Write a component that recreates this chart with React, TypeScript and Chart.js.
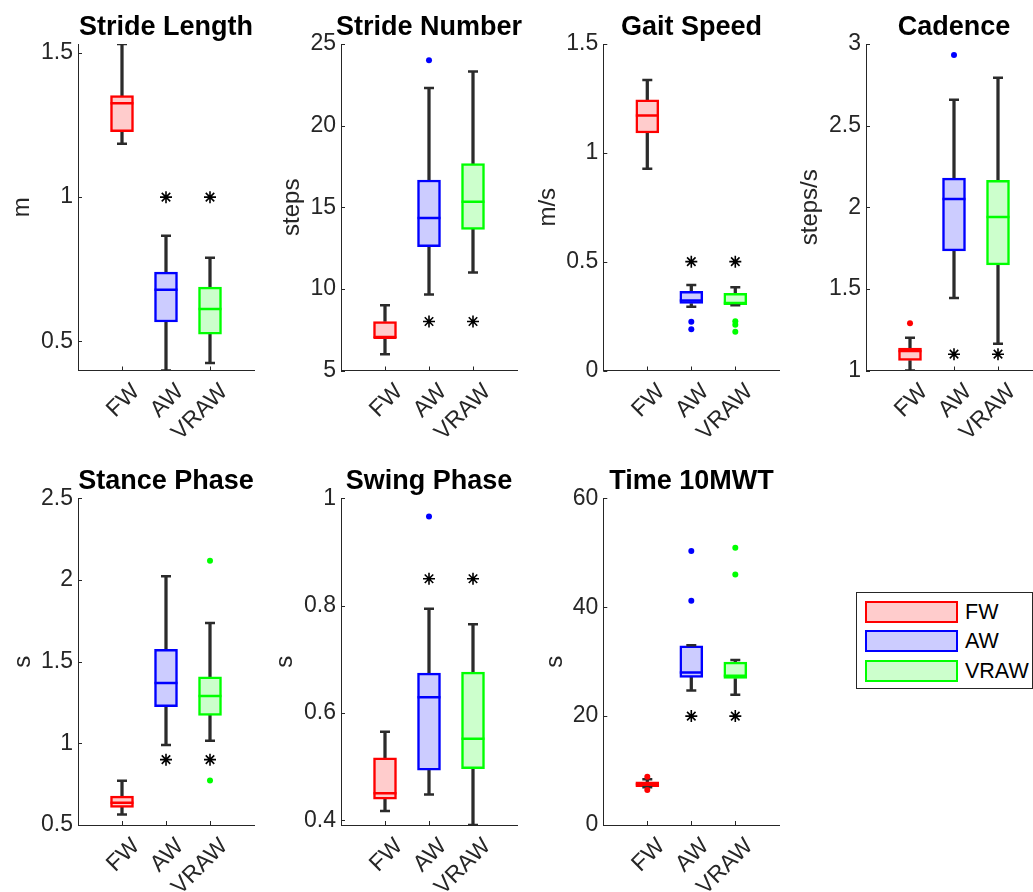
import React, { useEffect, useRef } from 'react';
import { Chart, registerables } from 'chart.js';

Chart.register(...registerables);

// ---------------- data ----------------
const groups = ['FW', 'AW', 'VRAW'];
const titles = ['Stride Length', 'Stride Number', 'Gait Speed', 'Cadence', 'Stance Phase', 'Swing Phase', 'Time 10MWT'];
const yUnits = ['m', 'steps', 'm/s', 'steps/s', 's', 's', 's'];
const yMin = [0.399, 5, 0, 1, 0.5, 0.391, 0];
const yMax = [1.531, 25, 1.5, 3, 2.5, 1, 60];
const yTicks = [
  [0.5, 1, 1.5],
  [5, 10, 15, 20, 25],
  [0, 0.5, 1, 1.5],
  [1, 1.5, 2, 2.5, 3],
  [0.5, 1, 1.5, 2, 2.5],
  [0.4, 0.6, 0.8, 1],
  [0, 20, 40, 60],
];

const lowerWhisker = [
  [1.185, 0.399, 0.425],
  [6.0, 9.66, 11.0],
  [0.927, 0.293, 0.3],
  [1.0, 1.444, 1.164],
  [0.565, 0.989, 1.016],
  [0.417, 0.448, 0.391],
  [6.95, 24.7, 23.9],
];
const q1 = [
  [1.227, 0.567, 0.525],
  [7.0, 12.58, 13.64],
  [1.091, 0.308, 0.303],
  [1.061, 1.733, 1.647],
  [0.608, 1.224, 1.171],
  [0.439, 0.493, 0.496],
  [7.03, 27.1, 26.9],
];
const median = [
  [1.326, 0.679, 0.612],
  [7.0, 14.34, 15.34],
  [1.171, 0.322, 0.31],
  [1.119, 2.05, 1.94],
  [0.636, 1.37, 1.289],
  [0.45, 0.629, 0.552],
  [7.5, 28.0, 27.4],
];
const q3 = [
  [1.352, 0.74, 0.688],
  [8.0, 16.67, 17.67],
  [1.244, 0.364, 0.354],
  [1.137, 2.178, 2.165],
  [0.677, 1.575, 1.407],
  [0.516, 0.674, 0.676],
  [7.95, 32.9, 29.9],
];
const upperWhisker = [
  [1.531, 0.866, 0.79],
  [9.0, 22.3, 23.32],
  [1.335, 0.393, 0.382],
  [1.2, 2.658, 2.794],
  [0.771, 2.023, 1.737],
  [0.565, 0.794, 0.765],
  [8.4, 33.0, 30.3],
];
const outliers: number[][][] = [
  [[], [], []],
  [[], [24], []],
  [[], [0.224, 0.19], [0.226, 0.21, 0.178]],
  [[1.29], [2.933], []],
  [[], [], [2.117, 0.773]],
  [[], [0.966], []],
  [[8.87, 6.43], [50.3, 41.2], [50.9, 46.0]],
];
// significance asterisks shown at AW and VRAW
const asterisks = [1.0, 8, 0.5, 1.1, 0.9, 0.85, 20];

// ---------------- styles / layout ----------------
const edgeColors = ['#ff0000', '#0000ff', '#00ff00'];
const fillColors = ['#ffcccc', '#ccccff', '#ccffcc'];
const axisColor = '#262626';
const whiskerColor = '#2b2b2b';
const FONT = "'Liberation Sans', Arial, Helvetica, sans-serif";

const axisLefts = [78, 341, 603.3, 866, 78, 341, 603.3];
const rowTop = [0, 454];
const titleBlock = [44, 44.3];
const plotH = [326.5, 326.7];
const canvasH = [440, 438];
const ylabelPad = [8, 15, 8.5, 7.5, 9, 8, 16];
const PLOT_W = 176;

const inwardTicks = {
  id: 'inwardTicks',
  afterDatasetsDraw(chart: any) {
    const { ctx, chartArea, scales } = chart;
    ctx.save();
    ctx.strokeStyle = axisColor;
    ctx.lineWidth = 1;
    ctx.beginPath();
    scales.y.ticks.forEach((t: any) => {
      const py = Math.round(scales.y.getPixelForValue(t.value)) + 0.5;
      ctx.moveTo(chartArea.left, py);
      ctx.lineTo(chartArea.left + 4, py);
    });
    scales.x.ticks.forEach((t: any) => {
      const px = Math.round(scales.x.getPixelForValue(t.value)) + 0.5;
      ctx.moveTo(px, chartArea.bottom);
      ctx.lineTo(px, chartArea.bottom - 4);
    });
    ctx.stroke();
    ctx.restore();
  },
};

function Panel({ i }: { i: number }) {
  const ref = useRef<HTMLCanvasElement>(null);
  const row = i < 4 ? 0 : 1;
  const left = Math.floor(axisLefts[i]) - 78;
  const yW = axisLefts[i] - left;
  // canvas symmetric around the plot centre so the full-width title is centred on the axes
  const W = Math.round(2 * yW + PLOT_W);
  const padRight = W - (yW + PLOT_W);
  const H = canvasH[row];
  const xH = H - titleBlock[row] - plotH[row];

  useEffect(() => {
    const boxData = groups.map((_, k) => ({ x: k + 1, y: [q1[i][k], q3[i][k]] }));
    const whiskerData = groups.flatMap((_, k) => [
      { x: k + 1, y: [lowerWhisker[i][k], q1[i][k]] },
      { x: k + 1, y: [q3[i][k], upperWhisker[i][k]] },
    ]);
    const capData = groups.flatMap((_, k) => [
      { x: k + 1, y: lowerWhisker[i][k] },
      { x: k + 1, y: upperWhisker[i][k] },
    ]);
    const medData = groups.map((_, k) => ({ x: k + 1, y: median[i][k] }));
    const starData = [
      { x: 2, y: asterisks[i] },
      { x: 3, y: asterisks[i] },
    ];
    const outlierSets = groups.map((_, k) => ({
      type: 'scatter' as const,
      data: outliers[i][k].map((v) => ({ x: k + 1, y: v })),
      pointStyle: 'circle',
      pointRadius: 3,
      pointBorderWidth: 0,
      pointBackgroundColor: edgeColors[k],
      pointBorderColor: edgeColors[k],
      order: 0,
    }));

    const tb = titleBlock[row];
    const titleLH = 27 * 1.2;
    const chart = new Chart(ref.current as HTMLCanvasElement, {
      type: 'bar',
      data: {
        datasets: [
          ...outlierSets,
          {
            type: 'scatter',
            data: starData,
            pointStyle: 'star',
            pointRadius: 6,
            pointBorderWidth: 1.6,
            pointBorderColor: '#000',
            pointBackgroundColor: '#000',
            order: 0,
          },
          {
            type: 'scatter',
            data: medData,
            pointStyle: 'line',
            pointRadius: 11.5,
            pointBorderWidth: 2.5,
            pointBorderColor: edgeColors,
            order: 1,
          },
          {
            type: 'scatter',
            data: capData,
            pointStyle: 'line',
            pointRadius: 5,
            pointBorderWidth: 2.5,
            pointBorderColor: whiskerColor,
            order: 2,
          },
          {
            type: 'bar',
            data: boxData,
            backgroundColor: fillColors,
            borderColor: edgeColors,
            borderWidth: 2.5,
            borderSkipped: false,
            barThickness: 23,
            grouped: false,
            order: 3,
          },
          {
            type: 'bar',
            data: whiskerData,
            backgroundColor: whiskerColor,
            borderWidth: 0,
            barThickness: 2.6,
            grouped: false,
            order: 4,
          },
        ] as any,
      },
      options: {
        responsive: false,
        animation: false,
        events: [],
        devicePixelRatio: 1,
        layout: { padding: 0 },
        plugins: {
          legend: { display: false },
          tooltip: { enabled: false },
          title: {
            display: true,
            text: titles[i],
            color: '#000',
            fullSize: true,
            font: { family: FONT, size: 27, weight: 'bold', lineHeight: 1.2 },
            padding: { top: 11.5, bottom: tb - titleLH - 11.5 },
          },
        },
        scales: {
          x: {
            type: 'linear',
            min: 0,
            max: 4,
            offset: false,
            afterBuildTicks: (s: any) => {
              s.ticks = [1, 2, 3].map((v) => ({ value: v }));
            },
            afterFit: (s: any) => {
              s.height = xH;
            },
            grid: { display: false, drawTicks: false },
            border: { display: true, color: axisColor, width: 1 },
            ticks: {
              autoSkip: false,
              maxRotation: 45,
              minRotation: 45,
              padding: 8,
              labelOffset: 14,
              color: axisColor,
              font: { family: FONT, size: 23 },
              callback: (v: any) => groups[Math.round(v) - 1] ?? '',
            },
          },
          y: {
            type: 'linear',
            position: 'left',
            min: yMin[i],
            max: yMax[i],
            beginAtZero: false,
            afterBuildTicks: (s: any) => {
              s.ticks = yTicks[i].map((v) => ({ value: v }));
            },
            afterFit: (s: any) => {
              s.width = yW;
            },
            grid: { display: false, drawTicks: false },
            border: { display: true, color: axisColor, width: 1 },
            ticks: {
              padding: 5,
              color: axisColor,
              font: { family: FONT, size: 23 },
              callback: (v: any) => String(v),
            },
            title: {
              display: true,
              text: yUnits[i],
              color: axisColor,
              font: { family: FONT, size: 24, lineHeight: 1.2 },
              padding: { top: ylabelPad[i], bottom: 0 },
            },
          },
          // empty spacer on the right so the plot sits centred under the title
          ySpacer: {
            type: 'linear',
            position: 'right',
            min: 0,
            max: 1,
            afterFit: (s: any) => {
              s.width = padRight;
            },
            grid: { display: false, drawTicks: false },
            border: { display: false },
            ticks: { display: false },
          },
        },
      } as any,
      plugins: [inwardTicks],
    });
    return () => chart.destroy();
  }, [i]);

  return (
    <canvas
      ref={ref}
      width={W}
      height={H}
      style={{ position: 'absolute', left, top: rowTop[row], width: W, height: H }}
    />
  );
}

function Legend() {
  return (
    <div
      style={{
        position: 'absolute',
        left: 856,
        top: 592,
        width: 177,
        height: 97,
        border: `1.3px solid ${axisColor}`,
        boxSizing: 'border-box',
        background: '#fff',
      }}
    >
      {groups.map((g, k) => (
        <div key={g} style={{ position: 'absolute', left: 8, top: 8 + k * 29.3, height: 22, width: 165 }}>
          <div
            style={{
              position: 'absolute',
              left: 0,
              top: 0,
              width: 93,
              height: 22,
              boxSizing: 'border-box',
              border: `2.5px solid ${edgeColors[k]}`,
              background: fillColors[k],
            }}
          />
          <div
            style={{
              position: 'absolute',
              left: 100,
              top: -2,
              fontFamily: FONT,
              fontSize: 21.5,
              lineHeight: '26px',
              color: '#000',
              whiteSpace: 'nowrap',
            }}
          >
            {g}
          </div>
        </div>
      ))}
    </div>
  );
}

export default function App() {
  return (
    <div
      style={{
        position: 'fixed',
        left: 0,
        top: 0,
        width: 1033,
        height: 892,
        overflow: 'hidden',
        background: '#fff',
      }}
    >
      {titles.map((_, i) => (
        <Panel key={i} i={i} />
      ))}
      <Legend />
    </div>
  );
}
